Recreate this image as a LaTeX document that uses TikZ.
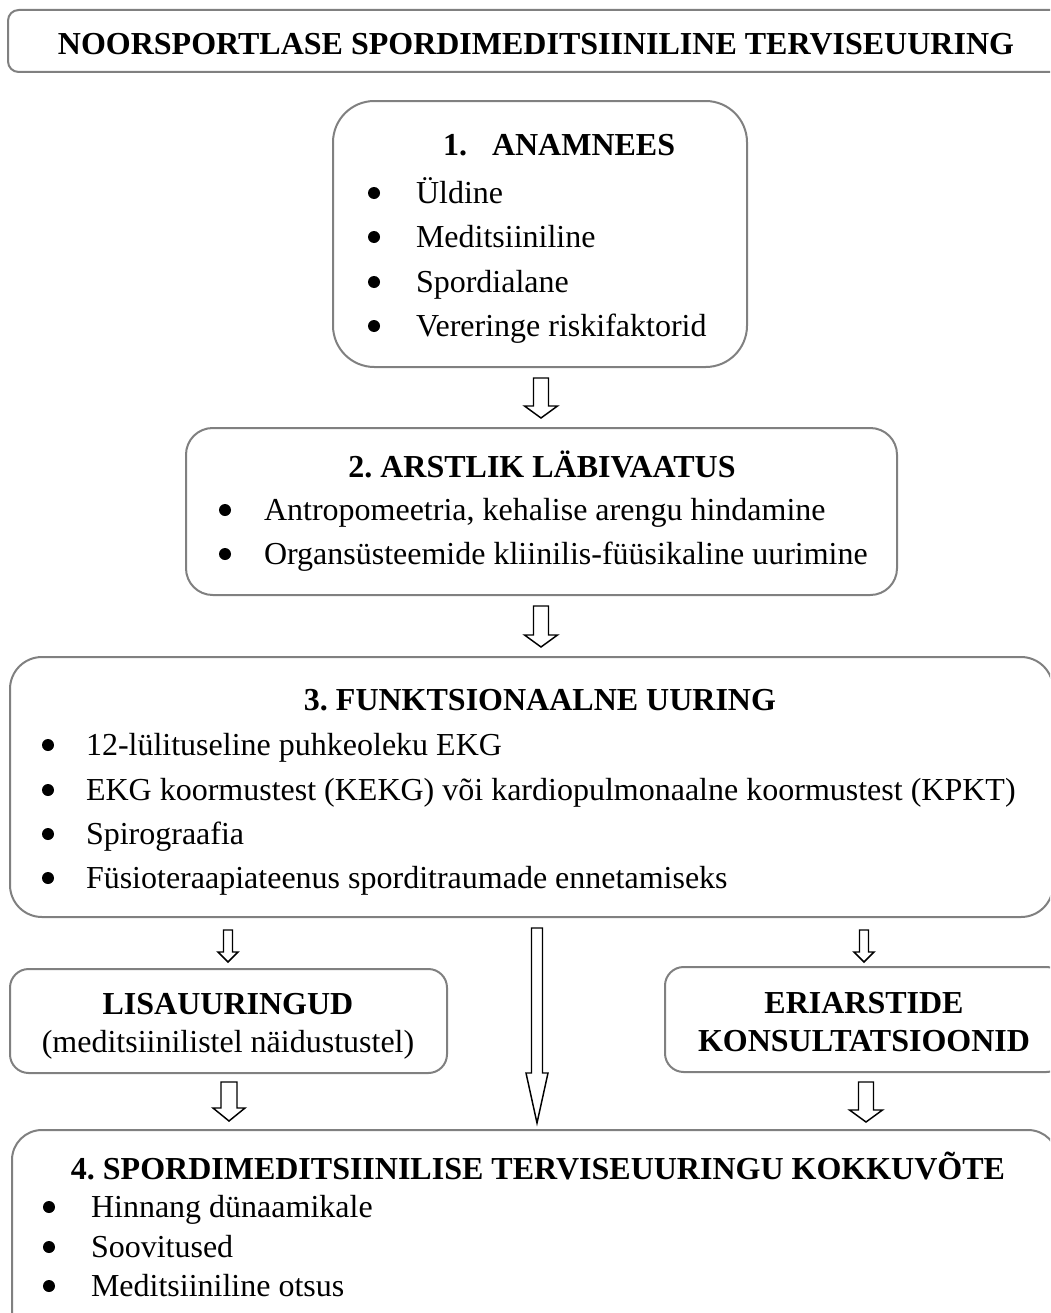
\documentclass[tikz,border=0pt]{standalone}
\usepackage{fontspec}
\setmainfont{Liberation Serif}
\frenchspacing
\usetikzlibrary{calc}
\definecolor{boxgray}{HTML}{808080}
\tikzset{
  frame/.style={draw=boxgray, line width=1.5pt, anchor=north west, inner sep=0pt, outer sep=0pt},
  sz/.style 2 args={minimum width=#1*0.75pt, minimum height=#2*0.75pt},
  txt/.style={inner sep=0pt, outer sep=0pt, font=\fontsize{24}{28}\selectfont},
  hdr/.style={txt, font=\fontsize{24}{28}\selectfont\bfseries},
  dot/.style={circle, fill=black, inner sep=0pt, minimum size=9pt},
  barrow/.style={draw=black, fill=white, line width=1.1pt, line join=miter}
}
\newcommand{\blockarrow}[5]{%
  \draw[barrow] ($(#1)+(-#3,0)$) -- ($(#1)+(#3,0)$) -- ($(#2)+(#3,-#5)$) -- ($(#2)+(#4,-#5)$) -- (#2) -- ($(#2)+(-#4,-#5)$) -- ($(#2)+(-#3,-#5)$) -- cycle;}
\begin{document}
\begin{tikzpicture}[x=0.75pt, y=-0.75pt]
\useasboundingbox (0,0) rectangle (1050,1313);
\clip (0,0) rectangle (1050,1313);
% boxes
\node[frame, sz={1060}{62}, rounded corners=8pt] (title) at (8,10) {};
\node[frame, sz={414}{266}, rounded corners=31pt] (b1) at (333,101) {};
\node[frame, sz={711}{167}, rounded corners=20pt] (b2) at (186,428) {};
\node[frame, sz={1043}{260}, rounded corners=24pt] (b3) at (10,657) {};
\node[frame, sz={437}{104}, rounded corners=14pt] (lisa) at (10,969) {};
\node[frame, sz={400}{105}, rounded corners=14pt] (eri) at (665,967) {};
\node[frame, sz={1046}{230}, rounded corners=22.5pt] (b4) at (12,1130) {};
% title
\node[hdr, anchor=base] (tt) at (536,55) {NOORSPORTLASE SPORDIMEDITSIINILINE TERVISEUURING};
% box 1
\node[hdr, anchor=base west] (b1n) at (443,155) {1.};
\node[hdr, anchor=base west] (b1h) at (492,155) {ANAMNEES};
\node[dot] (b1d1) at (374,193) {};
\node[dot] (b1d2) at (374,237) {};
\node[dot] (b1d3) at (374,282) {};
\node[dot] (b1d4) at (374,326) {};
\node[txt, anchor=base west] (b1l1) at (416,203) {Üldine};
\node[txt, anchor=base west] (b1l2) at (416,247) {Meditsiiniline};
\node[txt, anchor=base west] (b1l3) at (416,292) {Spordialane};
\node[txt, anchor=base west] (b1l4) at (416,336) {Vereringe riskifaktorid};
% box 2
\node[hdr, anchor=base] (b2h) at (542,477) {2. ARSTLIK LÄBIVAATUS};
\node[dot] (b2d1) at (225,510) {};
\node[dot] (b2d2) at (225,554) {};
\node[txt, anchor=base west] (b2l1) at (264,520) {Antropomeetria, kehalise arengu hindamine};
\node[txt, anchor=base west] (b2l2) at (264,564) {Organsüsteemide kliinilis-füüsikaline uurimine};
% box 3
\node[hdr, anchor=base] (b3h) at (540,710) {3. FUNKTSIONAALNE UURING};
\node[dot] (b3d1) at (48,745) {};
\node[dot] (b3d2) at (48,790) {};
\node[dot] (b3d3) at (48,834) {};
\node[dot] (b3d4) at (48,878) {};
\node[txt, anchor=base west] (b3l1) at (86,755) {12-lülituseline puhkeoleku EKG};
\node[txt, anchor=base west] (b3l2) at (86,800) {EKG koormustest (KEKG) või kardiopulmonaalne koormustest (KPKT)};
\node[txt, anchor=base west] (b3l3) at (86,844) {Spirograafia};
\node[txt, anchor=base west] (b3l4) at (86,888) {Füsioteraapiateenus sporditraumade ennetamiseks};
% lisauuringud
\node[hdr, anchor=base] (lih) at (228,1014) {LISAUURINGUD};
\node[txt, anchor=base] (lil) at (228,1052) {(meditsiinilistel näidustustel)};
% eriarstide
\node[hdr, anchor=base] (erh1) at (864,1013) {ERIARSTIDE};
\node[hdr, anchor=base] (erh2) at (864,1051) {KONSULTATSIOONID};
% box 4
\node[hdr, anchor=base] (b4h) at (538,1179) {4. SPORDIMEDITSIINILISE TERVISEUURINGU KOKKUVÕTE};
\node[dot] (b4d1) at (49,1207) {};
\node[dot] (b4d2) at (49,1247) {};
\node[dot] (b4d3) at (49,1286) {};
\node[txt, anchor=base west] (b4l1) at (91,1217) {Hinnang dünaamikale};
\node[txt, anchor=base west] (b4l2) at (91,1257) {Soovitused};
\node[txt, anchor=base west] (b4l3) at (91,1296) {Meditsiiniline otsus};
% arrows
\coordinate (a1s) at ($(b1.south)+(1,11)$);
\coordinate (a1t) at ($(a1s |- b2.north)+(0,-10)$);
\coordinate (a2s) at ($(b2.south)+(-0.5,11)$);
\coordinate (a2t) at ($(a2s |- b3.north)+(0,-10)$);
\coordinate (a3s) at ($(b3.south west)+(218,13)$);
\coordinate (a3t) at ($(a3s |- lisa.north)+(0,-7)$);
\coordinate (a4s) at ($(b3.south west)+(527,11)$);
\coordinate (a4t) at ($(a4s |- b4.north)+(0,-7)$);
\coordinate (a5s) at ($(b3.south west)+(854,13)$);
\coordinate (a5t) at ($(a5s |- eri.north)+(0,-5)$);
\coordinate (a6s) at ($(lisa.south west)+(219,9)$);
\coordinate (a6t) at ($(a6s |- b4.north)+(0,-9)$);
\coordinate (a7s) at ($(eri.south west)+(201,10)$);
\coordinate (a7t) at ($(a7s |- b4.north)+(0,-8)$);
\blockarrow{a1s}{a1t}{7.5}{16.5}{12}
\blockarrow{a2s}{a2t}{7.5}{16.5}{12}
\blockarrow{a3s}{a3t}{4.5}{10}{10}
\blockarrow{a4s}{a4t}{5.5}{11}{50}
\blockarrow{a5s}{a5t}{4.5}{10}{10}
\blockarrow{a6s}{a6t}{8}{16}{13}
\blockarrow{a7s}{a7t}{7.5}{16.5}{12}
\end{tikzpicture}
\end{document}
